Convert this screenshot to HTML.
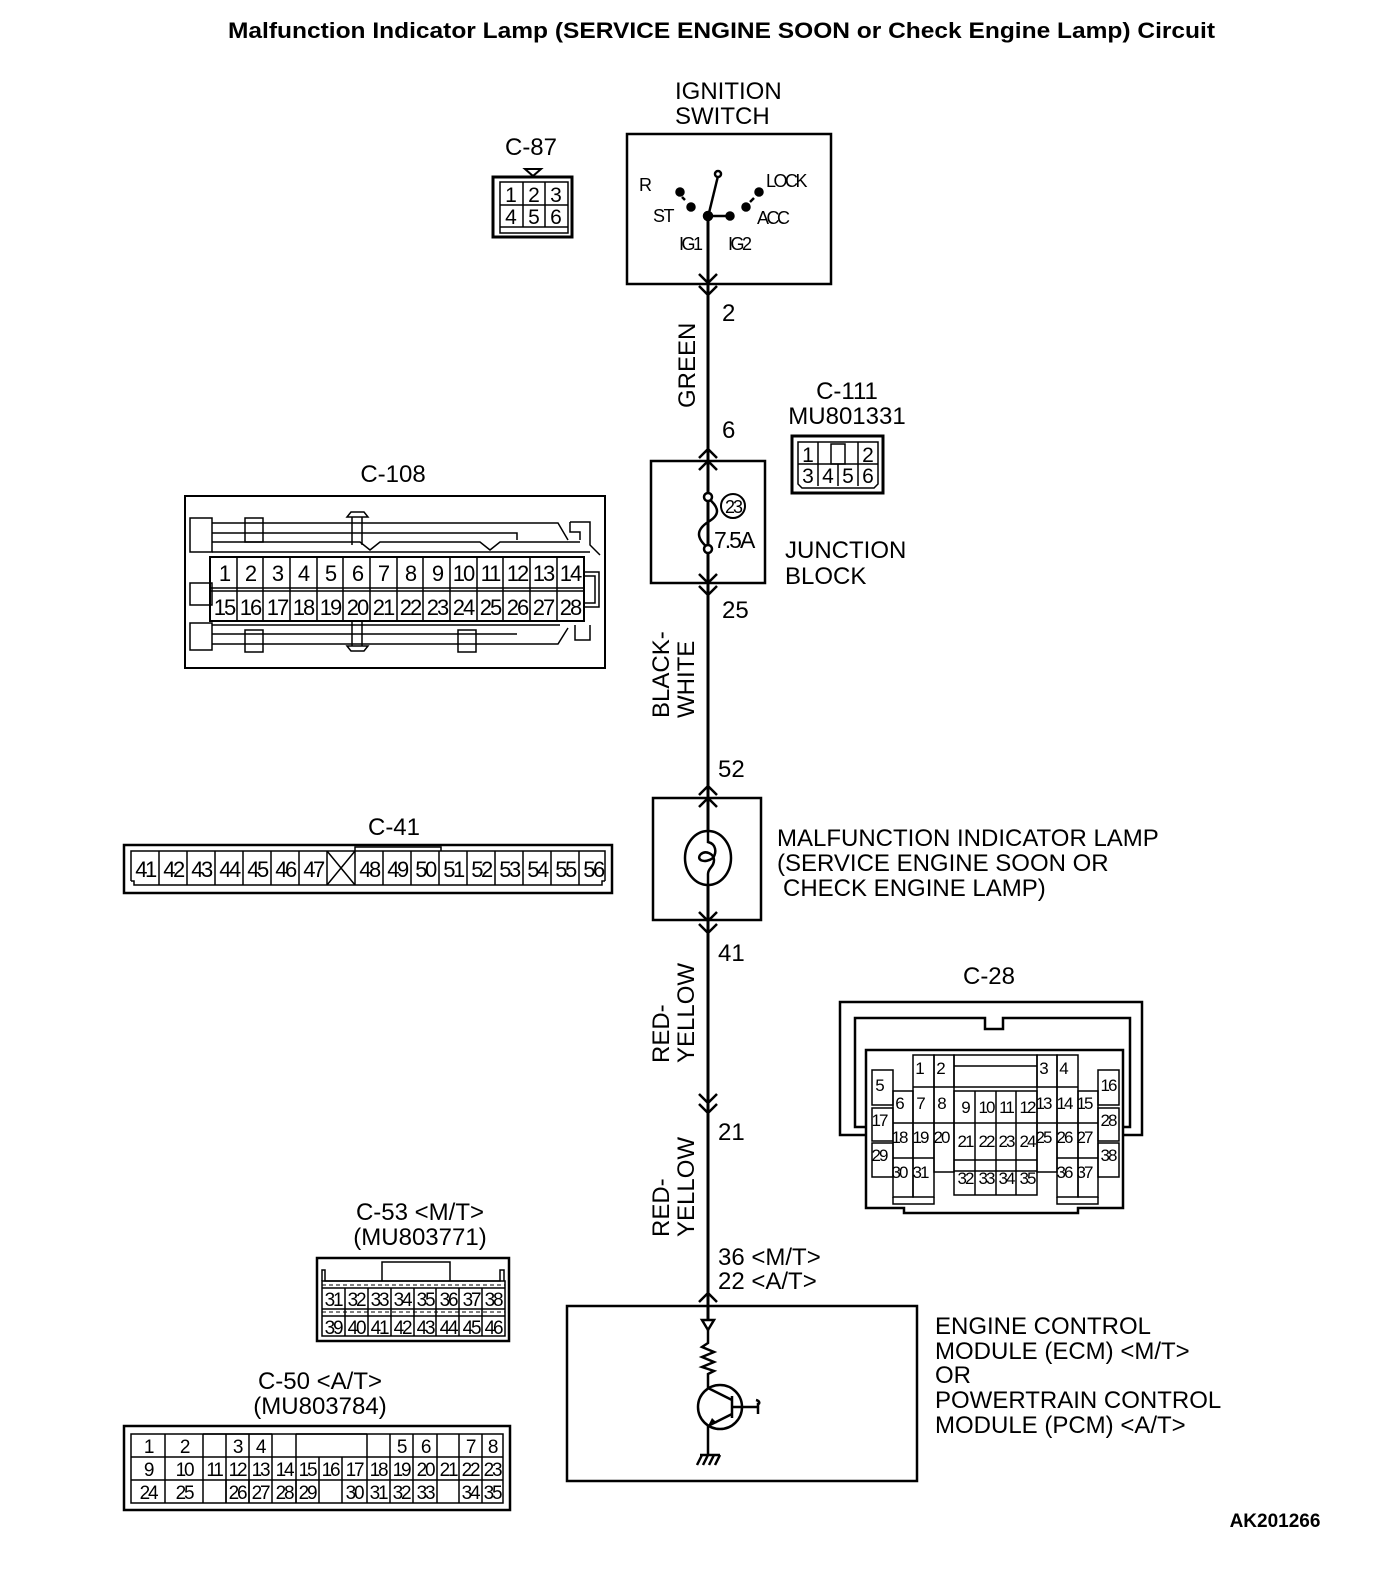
<!DOCTYPE html>
<html><head><meta charset="utf-8"><style>
html,body{margin:0;padding:0;background:#fff}
svg{display:block}
text{font-family:"Liberation Sans",sans-serif;fill:#000}
.l{font-size:24px}
</style></head><body>
<svg width="1376" height="1576" viewBox="0 0 1376 1576" xmlns="http://www.w3.org/2000/svg">
<text x="228" y="38" textLength="987" lengthAdjust="spacingAndGlyphs" style="font-size:22px;font-weight:bold">Malfunction Indicator Lamp (SERVICE ENGINE SOON or Check Engine Lamp) Circuit</text>
<text x="1275" y="1527" text-anchor="middle" style="font-size:19px;font-weight:bold">AK201266</text>

<g fill="none" stroke="#000" stroke-width="3">
<line x1="708" y1="217" x2="708" y2="1320"/>
<rect x="627" y="134" width="204" height="150" stroke-width="2.5"/>
<rect x="651" y="461" width="114" height="122" stroke-width="2.5"/>
<rect x="653" y="798" width="108" height="122" stroke-width="2.5"/>
<rect x="567" y="1306" width="350" height="175" stroke-width="2.5"/>
<path d="M699 274 L708 283 L717 274 M699 286 L708 295 L717 286" stroke-width="2.5"/>
<path d="M699 574 L708 583 L717 574 M699 586 L708 595 L717 586" stroke-width="2.5"/>
<path d="M699 912 L708 921 L717 912 M699 924 L708 933 L717 924" stroke-width="2.5"/>
<path d="M699 1094 L708 1103 L717 1094 M699 1104 L708 1113 L717 1104" stroke-width="2.5"/>
<path d="M699 458 L708 449 L717 458 M699 470 L708 461 L717 470" stroke-width="2.5"/>
<path d="M699 795 L708 786 L717 795 M699 807 L708 798 L717 807" stroke-width="2.5"/>
<path d="M699 1302 L708 1293 L717 1302" stroke-width="2.5"/>
</g>
<g stroke="#000" stroke-width="2.5" fill="#000">
<line x1="708" y1="217" x2="718" y2="176"/>
<circle cx="718" cy="174" r="3" fill="#fff"/>
<circle cx="708" cy="216" r="4"/>
<line x1="708" y1="216" x2="728" y2="216"/>
<circle cx="730" cy="216" r="3.5"/>
<circle cx="680" cy="192" r="3.5"/>
<circle cx="691" cy="207" r="3.5"/>
<circle cx="746" cy="207" r="3.5"/>
<circle cx="759" cy="192" r="3.5"/>
<line x1="682" y1="197" x2="685" y2="200"/>
<line x1="750" y1="202" x2="754" y2="198"/>
</g>
<text x="639" y="191" style="font-size:18px">R</text>
<text x="653" y="222" style="font-size:18px;letter-spacing:-1.5px">ST</text>
<text x="766" y="187" style="font-size:18px;letter-spacing:-2.5px">LOCK</text>
<text x="757" y="224" style="font-size:18px;letter-spacing:-2.5px">ACC</text>
<text x="679" y="250" style="font-size:18px;letter-spacing:-2.5px">IG1</text>
<text x="728" y="250" style="font-size:18px;letter-spacing:-2.5px">IG2</text>
<text x="675" y="99" class="l">IGNITION</text>
<text x="675" y="124" class="l">SWITCH</text>

<g fill="#fff" stroke="#000" stroke-width="2.5">
<path d="M708 498 C720 508,720 515,708 522 C696 530,696 538,708 548" fill="none"/>
<circle cx="708" cy="497" r="4"/>
<circle cx="708" cy="549" r="4"/>
<circle cx="733" cy="506" r="12" stroke-width="2"/>
</g>
<text x="733" y="513" text-anchor="middle" style="font-size:18px;letter-spacing:-2px">23</text>
<text x="714" y="548" style="font-size:23px;letter-spacing:-2px">7.5A</text>
<text x="785" y="558" class="l">JUNCTION</text>
<text x="785" y="584" class="l">BLOCK</text>

<g fill="none" stroke="#000" stroke-width="2.5">
<ellipse cx="708" cy="858" rx="23" ry="27" fill="#fff"/>
<path d="M708 831 L708 842 C716 844,717 852,713 858 C705 864,695 860,701 854 C706 850,714 854,714 860 C714 867,708 868,708 874 L708 885"/>
</g>
<text x="777" y="846" class="l">MALFUNCTION INDICATOR LAMP</text>
<text x="777" y="871" class="l">(SERVICE ENGINE SOON OR</text>
<text x="783" y="896" class="l">CHECK ENGINE LAMP)</text>

<text x="722" y="321" class="l">2</text>
<text x="722" y="438" class="l">6</text>
<text x="722" y="618" class="l">25</text>
<text x="718" y="777" class="l">52</text>
<text x="718" y="961" class="l">41</text>
<text x="718" y="1140" class="l">21</text>
<text x="718" y="1265" class="l">36 &lt;M/T&gt;</text>
<text x="718" y="1289" class="l">22 &lt;A/T&gt;</text>
<text transform="translate(695,408) rotate(-90)" class="l">GREEN</text>
<text transform="translate(669,718) rotate(-90)" class="l">BLACK-</text>
<text transform="translate(694,718) rotate(-90)" class="l">WHITE</text>
<text transform="translate(669,1063) rotate(-90)" class="l">RED-</text>
<text transform="translate(694,1063) rotate(-90)" class="l">YELLOW</text>
<text transform="translate(669,1237) rotate(-90)" class="l">RED-</text>
<text transform="translate(694,1237) rotate(-90)" class="l">YELLOW</text>

<g fill="none" stroke="#000" stroke-width="2.5">
<path d="M702 1320 L714 1320 L708 1330 Z"/>
<path d="M708 1330 L708 1343 L702 1347 L714 1352 L702 1357 L714 1362 L702 1367 L714 1371 L708 1374 L708 1388"/>
<circle cx="720" cy="1407" r="22"/>
<line x1="732" y1="1396" x2="732" y2="1418"/>
<path d="M708 1388 L732 1400 M732 1414 L708 1426 L708 1455"/>
<path d="M732 1407 L758 1407 M756 1400 C760 1401,760 1404,758 1404 L758 1414"/>
<path d="M700 1455 L720 1455 M702 1455 L697 1465 M708 1455 L703 1465 M714 1455 L709 1465 M720 1455 L715 1465"/>
</g>
<path d="M708 1426 L712 1418 L717 1423 Z" fill="#000"/>
<text x="935" y="1334" class="l">ENGINE CONTROL</text>
<text x="935" y="1359" class="l">MODULE (ECM) &lt;M/T&gt;</text>
<text x="935" y="1383" class="l">OR</text>
<text x="935" y="1408" class="l">POWERTRAIN CONTROL</text>
<text x="935" y="1433" class="l">MODULE (PCM) &lt;A/T&gt;</text>

<!-- C-87 -->
<text x="531" y="155" text-anchor="middle" class="l">C-87</text>
<path d="M525 169 L541 169 L533 176 Z" fill="none" stroke="#000" stroke-width="2"/>
<g fill="none" stroke="#000">
<rect x="493" y="177" width="79" height="60" stroke-width="3"/>
<rect x="500" y="182" width="68" height="51" stroke-width="1.5"/>
<path d="M500 205 H568 M500 227 H568 M523 182 V227 M545 182 V227" stroke-width="1.5"/>
</g>
<g text-anchor="middle" style="font-size:21px">
<text x="511" y="202">1</text><text x="534" y="202">2</text><text x="556" y="202">3</text>
<text x="511" y="224">4</text><text x="534" y="224">5</text><text x="556" y="224">6</text>
</g>

<!-- C-111 -->
<text x="847" y="399" text-anchor="middle" class="l">C-111</text>
<text x="847" y="424" text-anchor="middle" class="l">MU801331</text>
<g fill="none" stroke="#000">
<rect x="792" y="436" width="91" height="57" stroke-width="3"/>
<path d="M798 442 H878 V484 L874 488 H802 L798 484 Z M798 464 H878 M818 464 V486 M838 464 V486 M858 464 V486 M818 442 V464 M858 442 V464" stroke-width="1.5"/>
<rect x="831" y="444" width="14" height="20" stroke-width="1.5"/>
</g>
<g text-anchor="middle" style="font-size:21px">
<text x="808" y="462">1</text><text x="868" y="462">2</text>
<text x="808" y="483">3</text><text x="828" y="483">4</text><text x="848" y="483">5</text><text x="868" y="483">6</text>
</g>

<!-- C-108 -->
<text x="393" y="482" text-anchor="middle" class="l">C-108</text>
<g fill="none" stroke="#000" stroke-width="1.5">
<rect x="185" y="496" width="420" height="172" stroke-width="2"/>
<rect x="190" y="518" width="22" height="34"/>
<rect x="190" y="583" width="22" height="22" />
<rect x="190" y="623" width="22" height="27"/>
<rect x="245" y="518" width="18" height="24"/>
<rect x="245" y="630" width="18" height="22"/>
<rect x="458" y="630" width="18" height="22"/>
<path d="M212 523 H558 L568 540 M212 533 H517 V540 M212 542 H360 L370 550 L380 542 H480 L490 550 L500 542 H580 M212 552 H590"/>
<path d="M212 625 H560 M212 634 H517 M212 644 H558 L568 628"/>
<path d="M347 517 L351 512 H364 L368 517 Z M352 517 V545 M362 517 V545"/>
<path d="M347 646 L351 651 H364 L368 646 Z M352 620 V646 M362 620 V646"/>
<path d="M570 522 H590 V545 L600 555 M570 522 V532 H580 V540 M575 625 V640 H590 V625"/>
<path d="M584 572 H599 V607 H584 M584 576 H595 V603 H584"/>
<rect x="210" y="557" width="374" height="64" stroke-width="2"/>
<path d="M210 588 H584 M210 591 H584"/>
<path d="M237 557 V621 M263 557 V621 M290 557 V621 M317 557 V621 M343 557 V621 M370 557 V621 M397 557 V621 M423 557 V621 M450 557 V621 M477 557 V621 M503 557 V621 M530 557 V621 M557 557 V621"/>
</g>
<g text-anchor="middle" style="font-size:22px;letter-spacing:-2px">
<text x="224" y="581">1</text><text x="250" y="581">2</text><text x="277" y="581">3</text><text x="303" y="581">4</text><text x="330" y="581">5</text><text x="357" y="581">6</text><text x="383" y="581">7</text><text x="410" y="581">8</text><text x="437" y="581">9</text><text x="463" y="581">10</text><text x="490" y="581">11</text><text x="517" y="581">12</text><text x="543" y="581">13</text><text x="570" y="581">14</text>
<text x="224" y="615">15</text><text x="250" y="615">16</text><text x="277" y="615">17</text><text x="303" y="615">18</text><text x="330" y="615">19</text><text x="357" y="615">20</text><text x="383" y="615">21</text><text x="410" y="615">22</text><text x="437" y="615">23</text><text x="463" y="615">24</text><text x="490" y="615">25</text><text x="517" y="615">26</text><text x="543" y="615">27</text><text x="570" y="615">28</text>
</g>

<!-- C-41 -->
<text x="394" y="835" text-anchor="middle" class="l">C-41</text>
<g fill="none" stroke="#000" stroke-width="1.5">
<rect x="124" y="845" width="488" height="48" stroke-width="2.5"/>
<path d="M131 881 V851 H605 V881 M131 881 H134 V885 H602 V881 H605"/>
<path d="M355 851 V847 H441 V851"/>
<path d="M159 851 V885 M187 851 V885 M215 851 V885 M243 851 V885 M271 851 V885 M299 851 V885 M327 851 V885 M355 851 V885 M383 851 V885 M411 851 V885 M439 851 V885 M467 851 V885 M495 851 V885 M523 851 V885 M551 851 V885 M579 851 V885"/>
<path d="M327 851 L355 885 M355 851 L327 885"/>
</g>
<g text-anchor="middle" style="font-size:22px;letter-spacing:-2.5px">
<text x="145" y="877">41</text><text x="173" y="877">42</text><text x="201" y="877">43</text><text x="229" y="877">44</text><text x="257" y="877">45</text><text x="285" y="877">46</text><text x="313" y="877">47</text><text x="369" y="877">48</text><text x="397" y="877">49</text><text x="425" y="877">50</text><text x="453" y="877">51</text><text x="481" y="877">52</text><text x="509" y="877">53</text><text x="537" y="877">54</text><text x="565" y="877">55</text><text x="593" y="877">56</text>
</g>

<!-- C-28 -->
<text x="989" y="984" text-anchor="middle" class="l">C-28</text>
<g fill="none" stroke="#000" stroke-width="2.5">
<path d="M866 1135 H840 V1002 H1142 V1135 H1123"/>
<path d="M866 1127 H855 V1018 H985 V1029 H1003 V1018 H1130 V1127 H1123"/>
<path d="M866 1050 H1123 V1208 H1078 V1213 H904 V1208 H866 Z"/>
</g>
<g fill="none" stroke="#000" stroke-width="1.5">
<rect x="872" y="1070" width="21" height="35"/><rect x="872" y="1108" width="21" height="33"/><rect x="872" y="1143" width="21" height="34"/>
<rect x="1098" y="1070" width="21" height="35"/><rect x="1098" y="1108" width="21" height="33"/><rect x="1098" y="1143" width="21" height="34"/>
<rect x="893" y="1091" width="20" height="106"/>
<rect x="913" y="1055" width="21" height="142"/>
<rect x="934" y="1055" width="20" height="117"/>
<rect x="954" y="1055" width="83" height="32"/><line x1="954" y1="1066" x2="1037" y2="1066"/>
<rect x="954" y="1091" width="83" height="104"/>
<path d="M975 1091 V1195 M996 1091 V1195 M1016 1091 V1195 M954 1123 H1037 M954 1160 H1037 M954 1171 H1037"/>
<rect x="1037" y="1055" width="20" height="117"/>
<rect x="1057" y="1055" width="21" height="142"/>
<rect x="1078" y="1091" width="20" height="106"/>
<path d="M893 1123 H954 M913 1087 H934 M934 1087 H954 M1037 1087 H1078 M1037 1123 H1098 M893 1158 H934 M1057 1158 H1098 M893 1197 V1204 H934 V1197 M1057 1197 V1204 H1098 V1197"/>
</g>
<g style="font-size:17px;letter-spacing:-2px" text-anchor="middle">
<text x="879" y="1091">5</text><text x="1108" y="1091">16</text>
<text x="879" y="1126">17</text><text x="1108" y="1126">28</text>
<text x="879" y="1161">29</text><text x="1108" y="1161">38</text>
<text x="919" y="1074">1</text><text x="940" y="1074">2</text><text x="1043" y="1074">3</text><text x="1063" y="1074">4</text>
<text x="899" y="1109">6</text><text x="920" y="1109">7</text><text x="941" y="1109">8</text>
<text x="965" y="1113">9</text><text x="986" y="1113">10</text><text x="1006" y="1113">11</text><text x="1027" y="1113">12</text>
<text x="1043" y="1109">13</text><text x="1064" y="1109">14</text><text x="1084" y="1109">15</text>
<text x="899" y="1143">18</text><text x="920" y="1143">19</text><text x="941" y="1143">20</text>
<text x="965" y="1147">21</text><text x="986" y="1147">22</text><text x="1006" y="1147">23</text><text x="1027" y="1147">24</text>
<text x="1043" y="1143">25</text><text x="1064" y="1143">26</text><text x="1084" y="1143">27</text>
<text x="899" y="1178">30</text><text x="920" y="1178">31</text>
<text x="965" y="1184">32</text><text x="986" y="1184">33</text><text x="1006" y="1184">34</text><text x="1027" y="1184">35</text>
<text x="1064" y="1178">36</text><text x="1084" y="1178">37</text>
</g>

<!-- C-53 -->
<text x="420" y="1220" text-anchor="middle" class="l">C-53 &lt;M/T&gt;</text>
<text x="420" y="1245" text-anchor="middle" class="l">(MU803771)</text>
<g fill="none" stroke="#000" stroke-width="1.5">
<rect x="317" y="1258" width="192" height="83" stroke-width="2.5"/>
<path d="M382 1281 V1262 H450 V1281"/>
<path d="M322 1281 V1270 H325 V1281 H500 V1270 H504 V1281"/>
<rect x="322" y="1281" width="183" height="55"/>
<path d="M322 1288 H505 M322 1309 H505 M322 1316 H505" />
<path d="M322 1285 H505 M322 1312 H505" stroke-dasharray="4 3" stroke-width="1"/>
<path d="M345 1288 V1336 M368 1288 V1336 M391 1288 V1336 M414 1288 V1336 M436 1288 V1336 M459 1288 V1336 M482 1288 V1336"/>
</g>
<g text-anchor="middle" style="font-size:19px;letter-spacing:-2.2px">
<text x="333" y="1306">31</text><text x="356" y="1306">32</text><text x="379" y="1306">33</text><text x="402" y="1306">34</text><text x="425" y="1306">35</text><text x="448" y="1306">36</text><text x="471" y="1306">37</text><text x="493" y="1306">38</text>
<text x="333" y="1334">39</text><text x="356" y="1334">40</text><text x="379" y="1334">41</text><text x="402" y="1334">42</text><text x="425" y="1334">43</text><text x="448" y="1334">44</text><text x="471" y="1334">45</text><text x="493" y="1334">46</text>
</g>

<!-- C-50 -->
<text x="320" y="1389" text-anchor="middle" class="l">C-50 &lt;A/T&gt;</text>
<text x="320" y="1414" text-anchor="middle" class="l">(MU803784)</text>
<g fill="none" stroke="#000" stroke-width="1.5">
<rect x="124" y="1426" width="386" height="84" stroke-width="2.5"/>
<rect x="131" y="1434" width="372" height="69"/>
<path d="M165 1434 V1503 M203 1434 V1503 M131 1457 H503 M131 1480 H503"/>
<path d="M226 1434 V1503 M249 1434 V1503 M272 1434 V1457 M203 1434 H272 M296 1434 V1457 M367 1434 V1457 M296 1434 H367"/>
<path d="M272 1457 V1480 M296 1457 V1503 M319 1457 V1503 M342 1457 V1503 M367 1457 V1503 M390 1434 V1503 M413 1434 V1503 M437 1434 V1503 M459 1434 V1503 M482 1434 V1503"/>
</g>
<g fill="#fff" stroke="none">
<rect x="204" y="1435" width="21" height="21"/><rect x="273" y="1435" width="22" height="21"/><rect x="368" y="1435" width="21" height="21"/><rect x="438" y="1435" width="20" height="21"/>
<rect x="204" y="1481" width="21" height="21"/><rect x="320" y="1481" width="21" height="21"/><rect x="438" y="1481" width="20" height="21"/>
<rect x="273" y="1481" width="22" height="21"/>
</g>
<g fill="none" stroke="#000" stroke-width="1.5">
<path d="M272 1480 V1503 M226 1480 V1503 M249 1480 V1503 M296 1480 V1503"/>
</g>
<g text-anchor="middle" style="font-size:19px;letter-spacing:-2.2px">
<text x="148" y="1453">1</text><text x="184" y="1453">2</text><text x="237" y="1453">3</text><text x="260" y="1453">4</text><text x="401" y="1453">5</text><text x="425" y="1453">6</text><text x="470" y="1453">7</text><text x="492" y="1453">8</text>
<text x="148" y="1476">9</text><text x="184" y="1476">10</text><text x="214" y="1476">11</text><text x="237" y="1476">12</text><text x="260" y="1476">13</text><text x="284" y="1476">14</text><text x="307" y="1476">15</text><text x="330" y="1476">16</text><text x="354" y="1476">17</text><text x="378" y="1476">18</text><text x="401" y="1476">19</text><text x="425" y="1476">20</text><text x="448" y="1476">21</text><text x="470" y="1476">22</text><text x="492" y="1476">23</text>
<text x="148" y="1499">24</text><text x="184" y="1499">25</text><text x="237" y="1499">26</text><text x="260" y="1499">27</text><text x="284" y="1499">28</text><text x="307" y="1499">29</text><text x="354" y="1499">30</text><text x="378" y="1499">31</text><text x="401" y="1499">32</text><text x="425" y="1499">33</text><text x="470" y="1499">34</text><text x="492" y="1499">35</text>
</g>
</svg>
</body></html>
